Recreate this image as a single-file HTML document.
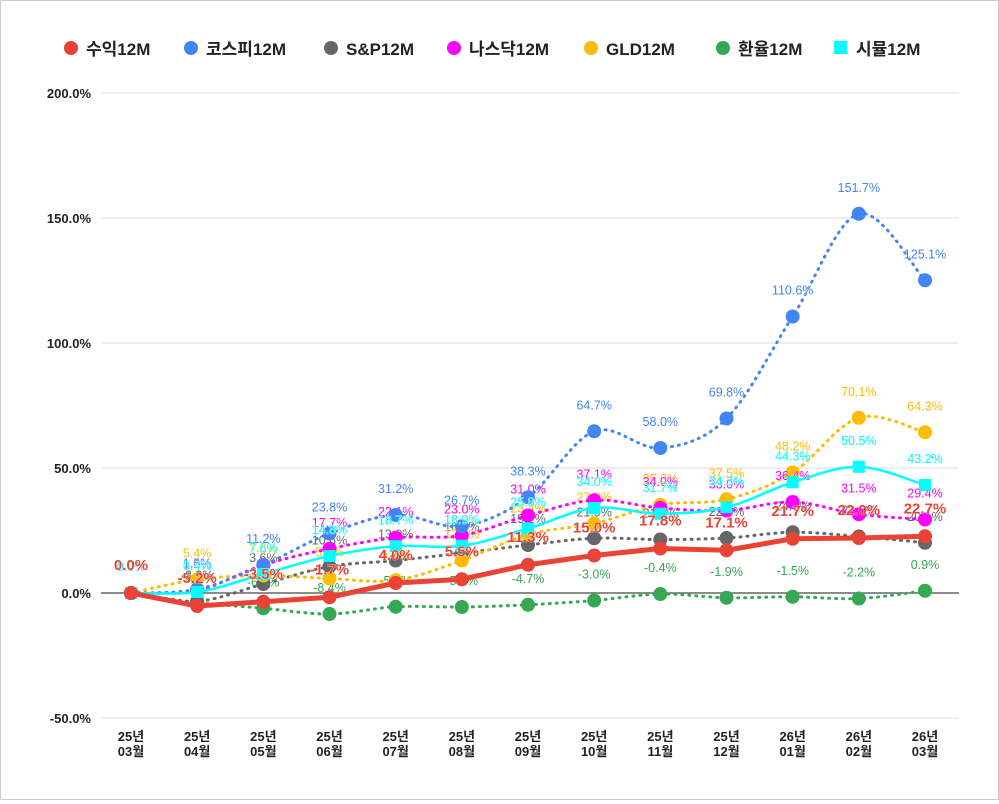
<!DOCTYPE html>
<html><head><meta charset="utf-8"><style>
body{margin:0;background:#fff;font-family:"Liberation Sans","Noto Sans CJK KR",sans-serif}
#wrap{width:997px;height:798px;border:1px solid #ccc;position:relative}
</style></head><body>
<div id="wrap">
<svg id="chart" width="997" height="798"></svg>
</div>
<script>
const categories=["25년|03월","25년|04월","25년|05월","25년|06월","25년|07월","25년|08월","25년|09월","25년|10월","25년|11월","25년|12월","26년|01월","26년|02월","26년|03월"];
const yTicks=[-50,0,50,100,150,200];
const sRet=[0,-5.2,-3.5,-1.7,4.0,5.5,11.3,15.0,17.8,17.1,21.7,22.0,22.7];
const sKospi=[0,1.5,11.2,23.8,31.2,26.7,38.3,64.7,58.0,69.8,110.6,151.7,125.1];
const sSP=[0,-3.3,3.6,10.6,13.0,16.0,19.2,21.9,21.4,22.0,24.3,22.6,20.1];
const sNasdaq=[0,1.0,11.2,17.7,22.1,23.0,31.0,37.1,34.0,33.0,36.4,31.5,29.4];
const sGld=[0,5.4,7.0,5.8,5.1,13.0,23.4,27.8,35.3,37.5,48.2,70.1,64.3];
const sFx=[0,-3.8,-6.1,-8.4,-5.5,-5.6,-4.7,-3.0,-0.4,-1.9,-1.5,-2.2,0.9];
const sSim=[0,0.4,7.6,14.8,18.7,18.9,25.8,34.0,31.7,34.3,44.3,50.5,43.2];
const series=[
 {name:"수익12M",v:sRet,c:"#ea4335",type:"thick",id:"return"},
 {name:"코스피12M",v:sKospi,c:"#4285f4",type:"dot",id:"kospi"},
 {name:"S&P12M",v:sSP,c:"#666666",type:"dot",id:"sp"},
 {name:"나스닥12M",v:sNasdaq,c:"#ff00ff",type:"dot",id:"nasdaq"},
 {name:"GLD12M",v:sGld,c:"#fbbc04",type:"dot",id:"gld"},
 {name:"환율12M",v:sFx,c:"#34a853",type:"dot",id:"fx"},
 {name:"시뮬12M",v:sSim,c:"#00ffff",type:"sim",id:"sim"}];
const NS="http://www.w3.org/2000/svg";
const svg=document.getElementById('chart');
function el(t,a,p){const e=document.createElementNS(NS,t);for(const k in a)e.setAttribute(k,a[k]);(p||svg).appendChild(e);return e;}
const x=i=>130+i*(924-130)/(categories.length-1);
const y=v=>592-v*2.5;
yTicks.forEach(t=>{
 const g=el('line',{x1:100,x2:958,y1:y(t),y2:y(t),stroke:t===0?'#666':'#ddd','stroke-width':t===0?1.5:1});
 
 
 const tx=el('text',{x:90,y:y(t)+5,'text-anchor':'end','font-size':13,'font-weight':'bold',fill:'#222'});
 tx.textContent=t.toFixed(1)+'%';
 
 
});
categories.forEach((c,i)=>{
 const [a,b]=c.split('|');
 const t=el('text',{x:x(i),y:740,'text-anchor':'middle','font-size':13,'font-weight':'bold',fill:'#222'});
 
 
 el('tspan',{x:x(i),dy:0},t).textContent=a;
 el('tspan',{x:x(i),dy:15},t).textContent=b;
});
function smooth(pts){
 let d='M'+pts[0][0]+','+pts[0][1];
 for(let i=0;i<pts.length-1;i++){
  const p0=pts[i-1]||pts[i],p1=pts[i],p2=pts[i+1],p3=pts[i+2]||p2;
  const c1=[p1[0]+(p2[0]-p0[0])/6,p1[1]+(p2[1]-p0[1])/6],c2=[p2[0]-(p3[0]-p1[0])/6,p2[1]-(p3[1]-p1[1])/6];
  d+=`C${c1[0]},${c1[1]} ${c2[0]},${c2[1]} ${p2[0]},${p2[1]}`;
 }return d;
}
const order=[5,2,4,3,1,6,0];
order.forEach(si=>{
 const s=series[si];
 const pts=s.v.map((v,i)=>[x(i),y(v)]);
 let d=s.type==='thick'?'M'+pts.map(p=>p.join(',')).join('L'):smooth(pts);
 const p=el('path',{d,fill:'none',stroke:s.c,'stroke-width':s.type==='thick'?5:(s.type==='sim'?2.5:3),'stroke-dasharray':s.type==='dot'?'1 6':'none','stroke-linecap':'round','stroke-linejoin':'round'});
 
 
 pts.forEach((q,i)=>{
  let m;
  if(s.type==='sim') m=el('rect',{x:q[0]-6,y:q[1]-6,width:12,height:12,fill:s.c});
  else m=el('circle',{cx:q[0],cy:q[1],r:7,fill:s.c});
  
  
  const t=el('text',{x:q[0],y:q[1]-(s.type==='thick'?23:22),'text-anchor':'middle','font-size':s.type==='thick'?15:12.5,'font-weight':s.type==='thick'?'bold':'normal',fill:s.c,stroke:'#fff','stroke-width':0.6,'paint-order':'stroke'});
  t.textContent=s.v[i].toFixed(1)+'%';
  
  
 });
});
const lx=[70,190,330,453,590,722,840];
series.forEach((s,i)=>{
 const g=el('g',{});
 
 
 if(s.type==='sim') el('rect',{x:lx[i]-7,y:40,width:13,height:13,fill:s.c},g);
 else el('circle',{cx:lx[i],cy:47,r:7,fill:s.c},g);
 const t=el('text',{x:lx[i]+15,y:54,'font-size':17,'font-weight':'bold',fill:'#222'},g);
 t.textContent=s.name;
});
</script>
</body></html>
